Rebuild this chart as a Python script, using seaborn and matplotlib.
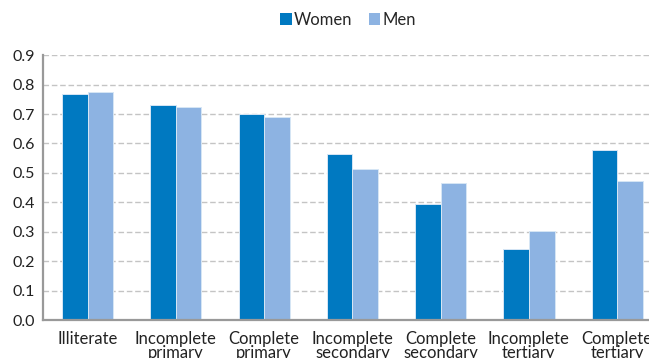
import matplotlib
matplotlib.use("Agg")
import matplotlib.pyplot as plt
from matplotlib.patches import Patch
import seaborn as sns
import pandas as pd

categories = ["Illiterate", "Incomplete\nprimary", "Complete\nprimary", "Incomplete\nsecondary",
              "Complete\nsecondary", "Incomplete\ntertiary", "Complete\ntertiary"]
women = [0.768, 0.730, 0.701, 0.564, 0.395, 0.242, 0.577]
men = [0.774, 0.725, 0.690, 0.513, 0.465, 0.302, 0.474]
series = ["Women", "Men"]
colors = ["#0079C1", "#8DB3E2"]
yticks = [0.0, 0.1, 0.2, 0.3, 0.4, 0.5, 0.6, 0.7, 0.8, 0.9]

df = pd.DataFrame({
    "category": categories * 2,
    "value": women + men,
    "sex": [series[0]] * len(categories) + [series[1]] * len(categories),
})

sns.set_style("white")
plt.rcParams["font.family"] = ["Lato", "DejaVu Sans"]

fig = plt.figure(figsize=(6.49, 3.58), dpi=100)
ax = fig.add_axes([0.067, 0.106, 0.952, 0.740])

sns.barplot(data=df, x="category", y="value", hue="sex", order=categories,
            hue_order=series, palette=colors, saturation=1, width=0.58, gap=0,
            edgecolor="#d6e6f5", linewidth=0.7, legend=False, ax=ax)

ax.set_ylim(0, 0.9)
ax.set_xlim(-0.5, len(categories) - 0.5)
ax.set_yticks(yticks)
ax.set_yticklabels([f"{v:.1f}" for v in yticks], fontsize=11.5, color="#222222")
ax.set_xticks(range(len(categories)))
ax.set_xticklabels(categories, fontsize=12, color="#222222", linespacing=0.8)
ax.set_xticks([i - 0.5 for i in range(len(categories) + 1)], minor=True)
ax.tick_params(axis="x", which="major", length=0, pad=8)
ax.tick_params(axis="x", which="minor", length=5, width=1.2, color="#999999", direction="out")
ax.tick_params(axis="y", which="major", length=4, width=1.2, color="#999999", direction="out", pad=2)
ax.set_xlabel("")
ax.set_ylabel("")

ax.set_axisbelow(True)
ax.yaxis.grid(True, color="#c4c4c4", linestyle=(0, (4, 2)), linewidth=1.0)
ax.xaxis.grid(False)
for side in ["top", "right"]:
    ax.spines[side].set_visible(False)
for side in ["left", "bottom"]:
    ax.spines[side].set_color("#999999")
    ax.spines[side].set_linewidth(1.6)

handles = [Patch(facecolor=c, edgecolor="none") for c in colors]
fig.legend(handles, series, loc="center", bbox_to_anchor=(0.536, 0.945), ncol=2,
           frameon=False, fontsize=12, handlelength=0.7, handleheight=0.7,
           handletextpad=0.1, columnspacing=1.0)

fig.savefig("out.png", dpi=100)
